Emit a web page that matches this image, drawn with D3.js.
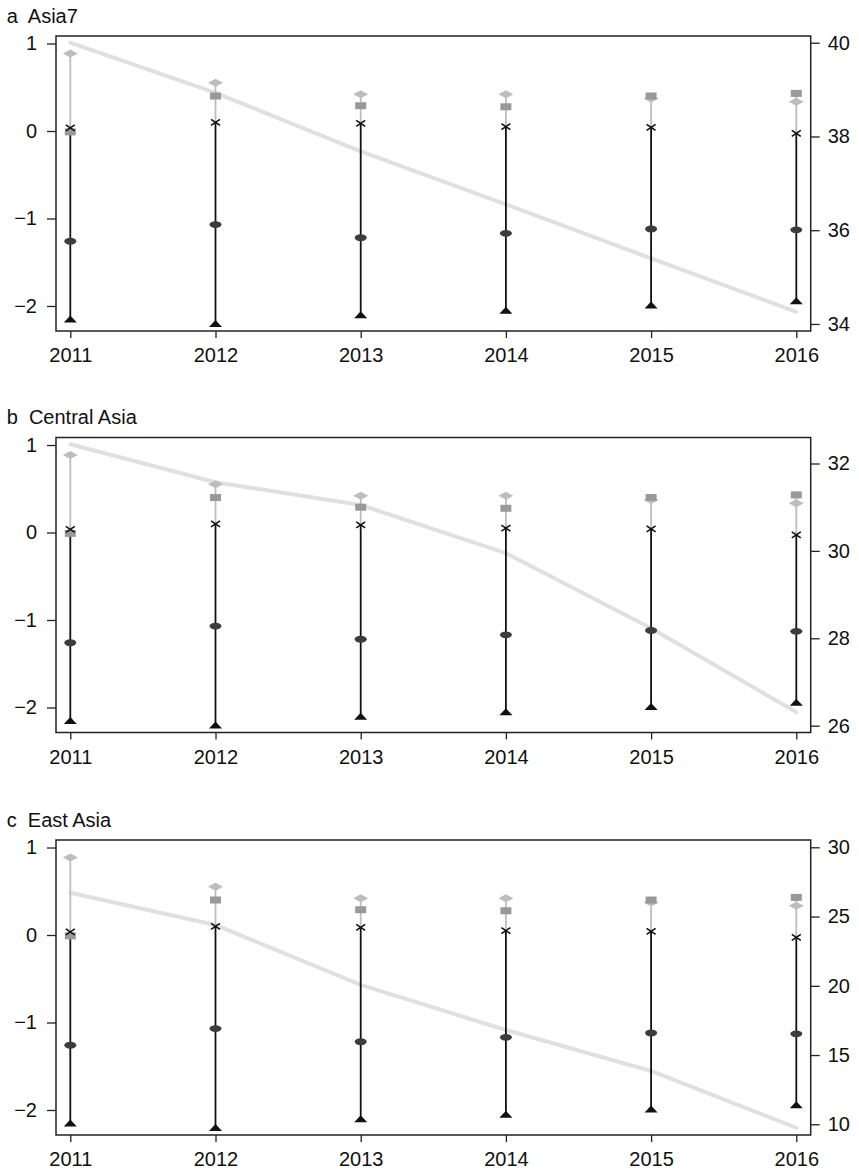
<!DOCTYPE html>
<html>
<head>
<meta charset="utf-8">
<script src="https://cdn.jsdelivr.net/npm/d3@7"></script>
<style>
  html, body { margin: 0; padding: 0; background: #fff; }
  svg { display: block; font-family: "Liberation Sans", Arial, Helvetica, sans-serif; }
  .title { white-space: pre; }
</style>
</head>
<body>
<div id="chart"></div>
<script>
// ---------------- data ----------------
const years = [2011, 2012, 2013, 2014, 2015, 2016];
const diamondVals  = [0.886, 0.551, 0.420, 0.420, 0.373, 0.334];
const squareVals   = [-0.010, 0.400, 0.289, 0.277, 0.400, 0.430];
const crossVals    = [0.035, 0.099, 0.088, 0.050, 0.042, -0.027];
const circleVals   = [-1.260, -1.070, -1.220, -1.170, -1.120, -1.130];
const triangleVals = [-2.150, -2.200, -2.100, -2.050, -1.990, -1.940];

const panelLetters = ["a", "b", "c"];
const panelNames = ["Asia7", "Central Asia", "East Asia"];
const trendAsia7   = [40.00, 38.93, 37.68, 36.55, 35.40, 34.26];
const trendCentral = [32.44, 31.57, 31.05, 29.95, 28.23, 26.31];
const trendEast    = [26.72, 24.39, 20.06, 16.81, 13.85, 9.75];
const trends = [trendAsia7, trendCentral, trendEast];

const leftTicks = [-2, -1, 0, 1];
const rightTicksA = [34, 36, 38, 40];
const rightTicksB = [26, 28, 30, 32];
const rightTicksC = [10, 15, 20, 25, 30];
const rightTicks = [rightTicksA, rightTicksB, rightTicksC];

// ---------------- layout ----------------
const W = 859, H = 1175;
const plotLeft = 56, plotRight = 810.7, plotH = 295;
const panelTops = [36, 437.5, 840];
const leftDomain = [-2.286, 1.086];
const rightDomains = [[33.85, 40.143], [25.844, 32.595], [9.227, 30.527]];

const svg = d3.select("#chart").append("svg")
  .attr("width", W).attr("height", H);

const x = d3.scaleLinear().domain([2011, 2016]).range([70.3, 796.3]);

const ink = "#222";

panelLetters.forEach((letter, p) => {
  const top = panelTops[p];
  const g = svg.append("g");
  const yL = d3.scaleLinear().domain(leftDomain).range([top + plotH, top]);
  const yR = d3.scaleLinear().domain(rightDomains[p]).range([top + plotH, top]);

  // title
  g.append("text").attr("class", "title")
    .attr("x", 6.7).attr("y", top - 13.5)
    .attr("font-size", 20).attr("fill", "#111")
    .text(letter + "  " + panelNames[p]);

  // trend line (right axis)
  const trendData = years.map((yr, i) => [yr, trends[p][i]]);
  g.append("path")
    .datum(trendData)
    .attr("fill", "none")
    .attr("stroke", "#e0e0e0")
    .attr("stroke-width", 4)
    .attr("stroke-linecap", "round")
    .attr("d", d3.line().x(d => x(d[0])).y(d => yR(d[1])));

  // spikes
  years.forEach((yr, i) => {
    const top2 = Math.max(diamondVals[i], squareVals[i]);
    g.append("line")
      .attr("x1", x(yr)).attr("x2", x(yr))
      .attr("y1", yL(crossVals[i])).attr("y2", yL(top2))
      .attr("stroke", "#bdbdbd").attr("stroke-width", 1.8);
    g.append("line")
      .attr("x1", x(yr)).attr("x2", x(yr))
      .attr("y1", yL(triangleVals[i])).attr("y2", yL(crossVals[i]))
      .attr("stroke", "#111").attr("stroke-width", 1.8);
  });

  // markers
  g.selectAll(".dia").data(years).enter().append("path")
    .attr("d", (yr, i) => {
      const cx = x(yr), cy = yL(diamondVals[i]);
      return `M${cx - 7.5},${cy} L${cx},${cy - 4} L${cx + 7.5},${cy} L${cx},${cy + 4} Z`;
    })
    .attr("fill", "#bdbdbd");
  g.selectAll(".sq").data(years).enter().append("rect")
    .attr("x", yr => x(yr) - 5.5)
    .attr("y", (yr, i) => yL(squareVals[i]) - 3.5)
    .attr("width", 11).attr("height", 7)
    .attr("fill", "#999");
  g.selectAll(".cir").data(years).enter().append("ellipse")
    .attr("cx", yr => x(yr))
    .attr("cy", (yr, i) => yL(circleVals[i]))
    .attr("rx", 6).attr("ry", 3.4)
    .attr("fill", "#3c3c3c");
  g.selectAll(".tri").data(years).enter().append("path")
    .attr("d", (yr, i) => {
      const cx = x(yr), cy = yL(triangleVals[i]);
      return `M${cx - 6.5},${cy + 3.5} L${cx + 6.5},${cy + 3.5} L${cx},${cy - 3.5} Z`;
    })
    .attr("fill", "#111");
  g.selectAll(".crs").data(years).enter().append("path")
    .attr("d", (yr, i) => {
      const cx = x(yr), cy = yL(crossVals[i]);
      return `M${cx - 4.5},${cy - 3} L${cx + 4.5},${cy + 3} M${cx - 4.5},${cy + 3} L${cx + 4.5},${cy - 3}`;
    })
    .attr("stroke", "#111").attr("stroke-width", 1.6).attr("fill", "none");

  // frame
  g.append("rect")
    .attr("x", plotLeft).attr("y", top)
    .attr("width", plotRight - plotLeft).attr("height", plotH)
    .attr("fill", "none").attr("stroke", ink).attr("stroke-width", 1.5);

  // axes
  const styleAxis = sel => {
    sel.select(".domain").remove();
    sel.selectAll(".tick line").attr("stroke", ink).attr("stroke-width", 1.3);
    sel.selectAll(".tick text").attr("fill", "#111")
      .attr("font-size", 20).attr("font-family", "Liberation Sans, Arial, sans-serif");
  };

  g.append("g")
    .attr("transform", `translate(${plotLeft},0)`)
    .call(d3.axisLeft(yL).tickValues(leftTicks).tickSize(9).tickPadding(10).tickFormat(d3.format("d")))
    .call(styleAxis);

  g.append("g")
    .attr("transform", `translate(${plotRight},0)`)
    .call(d3.axisRight(yR).tickValues(rightTicks[p]).tickSize(9).tickPadding(8).tickFormat(d3.format("d")))
    .call(styleAxis);

  g.append("g")
    .attr("transform", `translate(0,${top + plotH})`)
    .call(d3.axisBottom(x).tickValues(years).tickSize(7).tickPadding(10).tickFormat(d3.format("d")))
    .call(styleAxis);
});
</script>
</body>
</html>
